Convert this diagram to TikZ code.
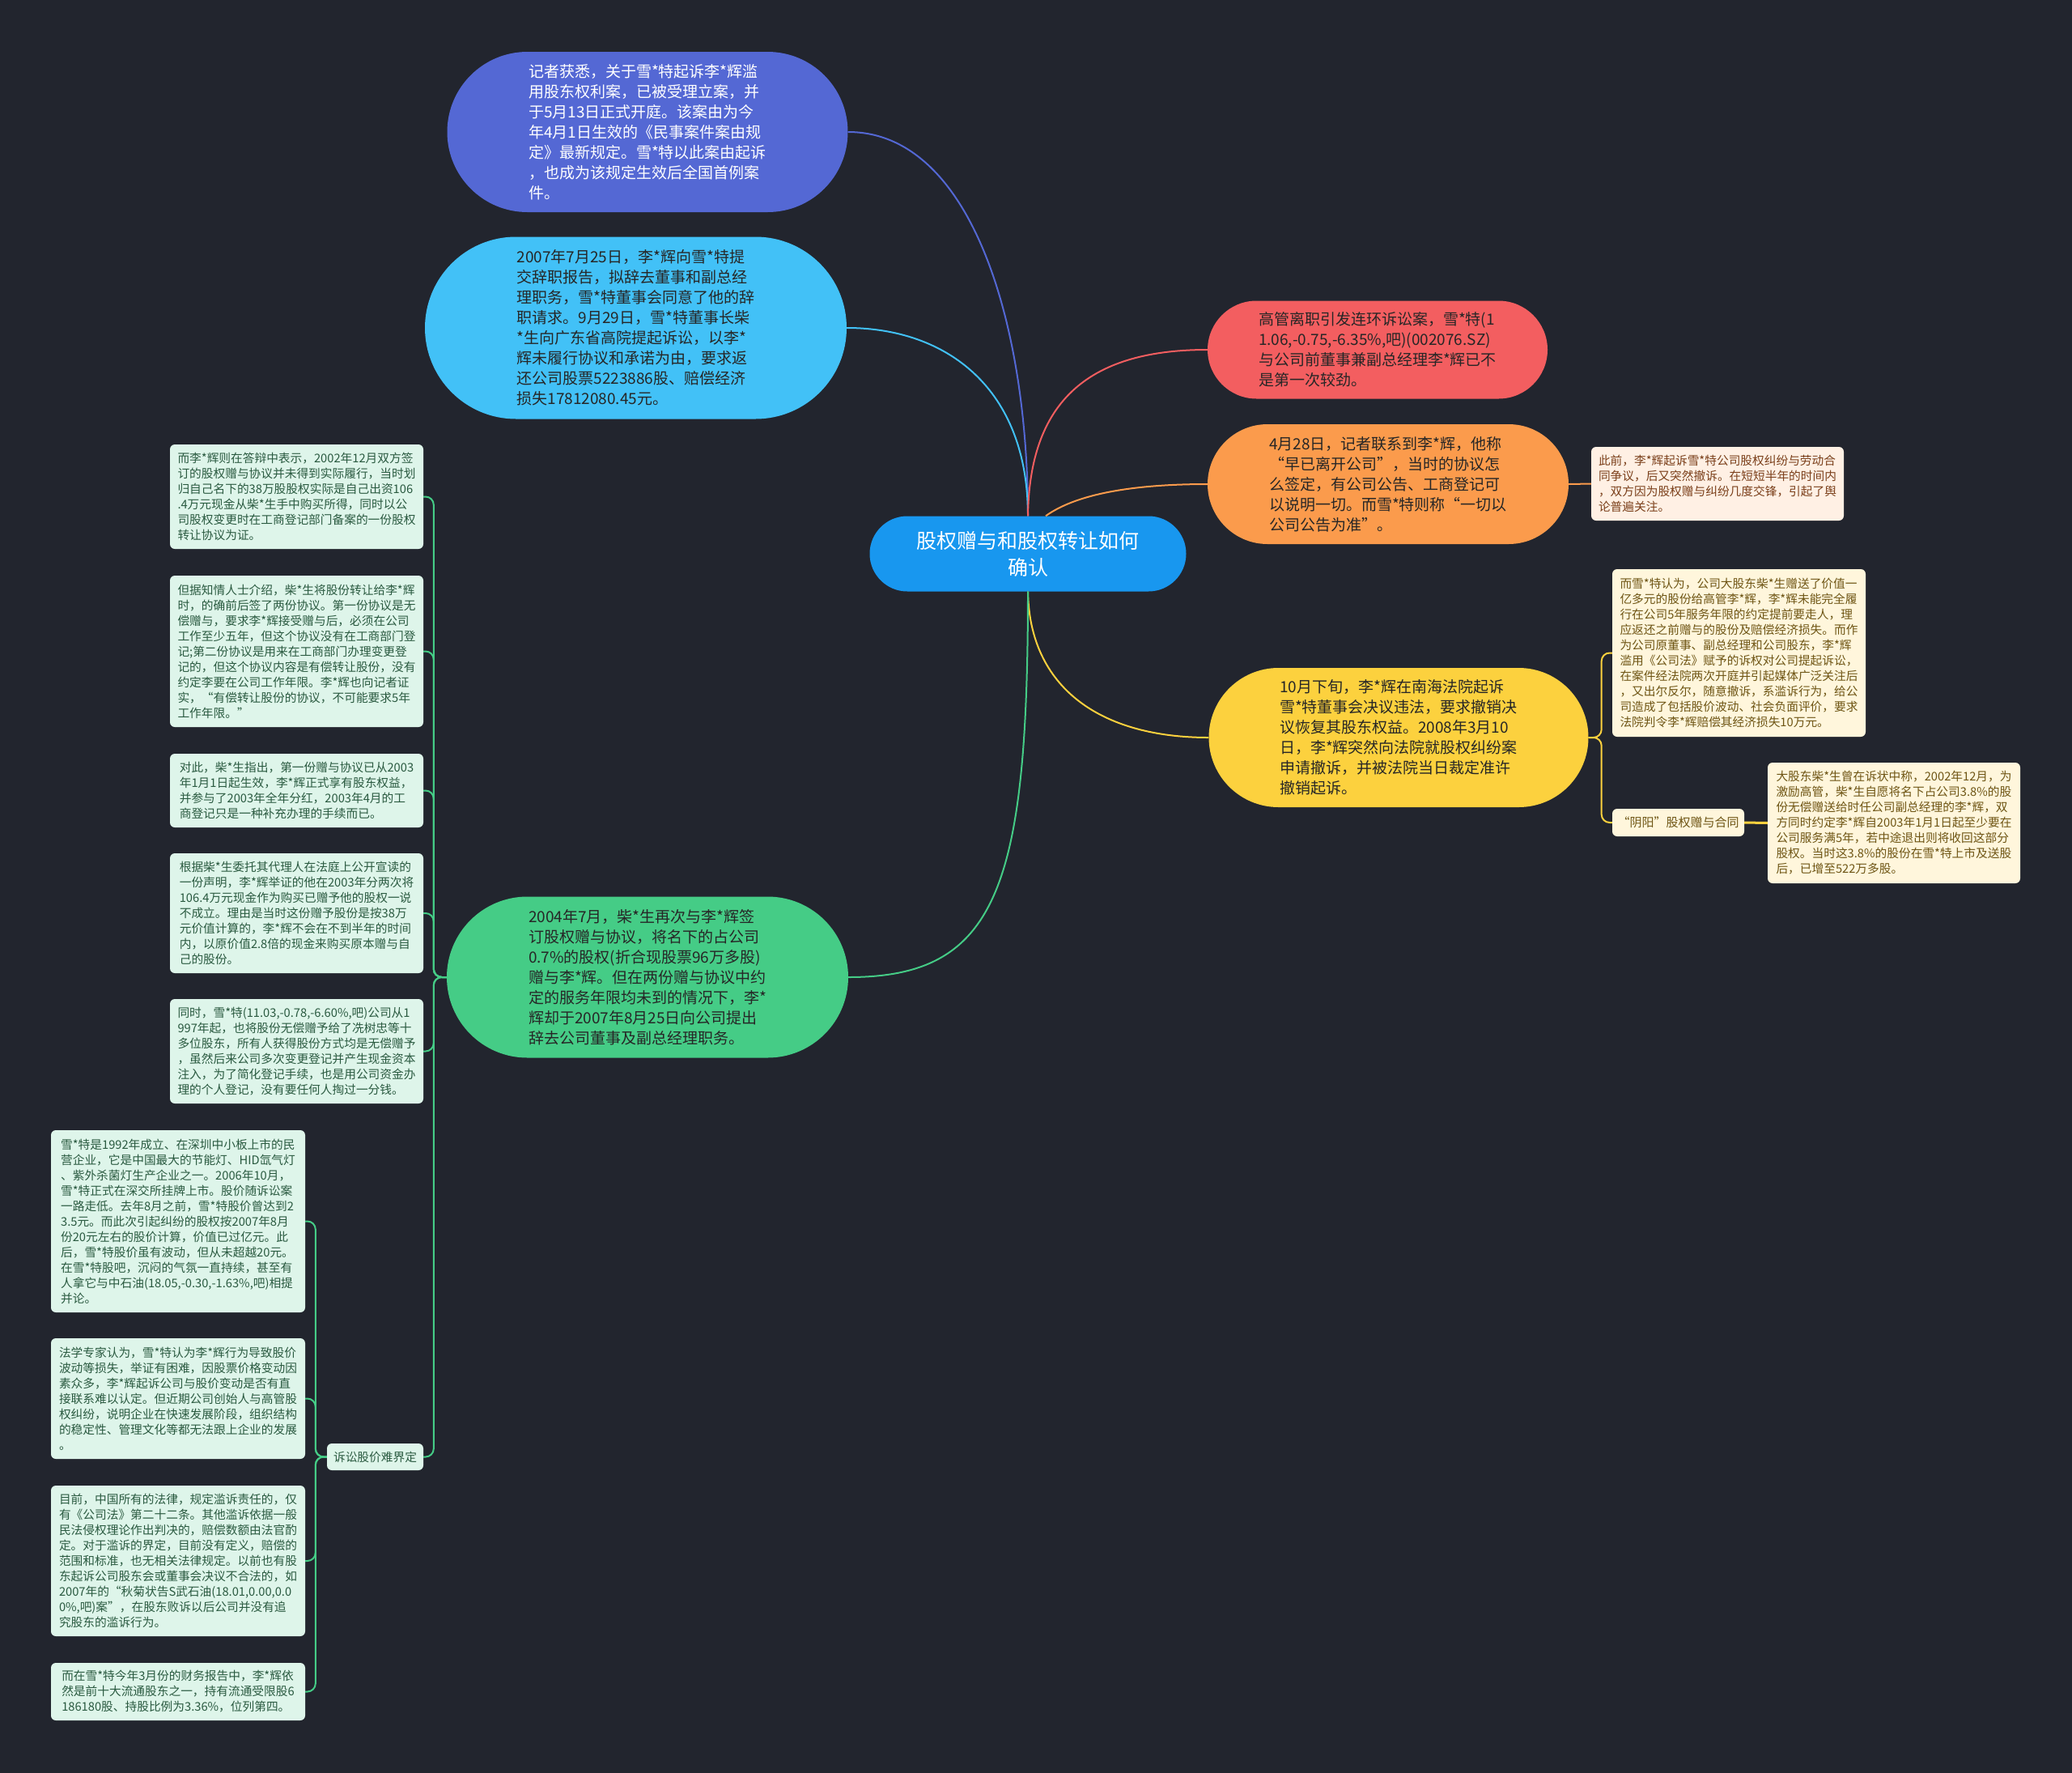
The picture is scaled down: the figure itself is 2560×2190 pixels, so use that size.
\documentclass[tikz,border=0pt]{standalone}
\usepackage{fontspec}
\setmainfont{Noto Sans CJK SC}
\usetikzlibrary{shapes.misc}

\definecolor{bgdark}{HTML}{22252E}
\definecolor{rootblue}{HTML}{1897EF}
\definecolor{bpurple}{HTML}{5468D4}
\definecolor{bblue}{HTML}{42C1F7}
\definecolor{bred}{HTML}{F35E60}
\definecolor{borange}{HTML}{FB9B4C}
\definecolor{byellow}{HTML}{FCD13E}
\definecolor{bgreen}{HTML}{45CC86}
\definecolor{notegreen}{HTML}{DEF5EA}
\definecolor{notegreentext}{HTML}{2A5A40}
\definecolor{noteyellow}{HTML}{FFF6DC}
\definecolor{noteyellowtext}{HTML}{6E5514}
\definecolor{noteorange}{HTML}{FFF0E4}
\definecolor{noteorangetext}{HTML}{7A3F1A}

\begin{document}
\begin{tikzpicture}[x=1pt, y=-1pt,
  root/.style={rounded rectangle, fill=rootblue, text=white, inner sep=0pt, minimum width=391pt, minimum height=93pt, align=center, font=\fontsize{25}{33}\selectfont},
  branch/.style={rounded rectangle, inner sep=0pt, align=left, font=\fontsize{19}{25}\selectfont},
  note/.style={rectangle, rounded corners=6pt, inner sep=0pt, align=left, font=\fontsize{14.7}{19}\selectfont},
  greennote/.style={note, fill=notegreen, text=notegreentext, minimum width=313pt},
  yellownote/.style={note, fill=noteyellow, text=noteyellowtext, minimum width=313pt},
  link/.style={line width=2pt}
]
  \fill[bgdark] (0,0) rectangle (2560,2190);

  % centre and main branches
  \node[root] (root) at (1270,684) {股权赠与和股权转让如何\\确认};

  \node[branch, fill=bpurple, text=white, minimum width=495pt, minimum height=198pt] (case) at (800,163)
    {记者获悉，关于雪*特起诉李*辉滥\\用股东权利案，已被受理立案，并\\于5月13日正式开庭。该案由为今\\年4月1日生效的《民事案件案由规\\定》最新规定。雪*特以此案由起诉\\，也成为该规定生效后全国首例案\\件。};
  \node[branch, fill=bblue, text=black!85, minimum width=521pt, minimum height=225pt] (resign) at (785.5,405)
    {2007年7月25日，李*辉向雪*特提\\交辞职报告，拟辞去董事和副总经\\理职务，雪*特董事会同意了他的辞\\职请求。9月29日，雪*特董事长柴\\*生向广东省高院提起诉讼，以李*\\辉未履行协议和承诺为由，要求返\\还公司股票5223886股、赔偿经济\\损失17812080.45元。};
  \node[branch, fill=bgreen, text=black!85, minimum width=496pt, minimum height=199pt] (regift) at (800,1207)
    {2004年7月，柴*生再次与李*辉签\\订股权赠与协议，将名下的占公司\\0.7\%的股权(折合现股票96万多股)\\赠与李*辉。但在两份赠与协议中约\\定的服务年限均未到的情况下，李*\\辉却于2007年8月25日向公司提出\\辞去公司董事及副总经理职务。};
  \node[branch, fill=bred, text=black!85, minimum width=420pt, minimum height=121pt] (feud) at (1702,432)
    {高管离职引发连环诉讼案，雪*特(1\\1.06,-0.75,-6.35\%,吧)(002076.SZ)\\与公司前董事兼副总经理李*辉已不\\是第一次较劲。};
  \node[branch, fill=borange, text=black!85, minimum width=446pt, minimum height=148pt] (contact) at (1715,598)
    {4月28日，记者联系到李*辉，他称\\“早已离开公司”，当时的协议怎\\么签定，有公司公告、工商登记可\\以说明一切。而雪*特则称“一切以\\公司公告为准”。};
  \node[branch, fill=byellow, text=black!85, minimum width=469pt, minimum height=172pt] (withdraw) at (1728,911)
    {10月下旬，李*辉在南海法院起诉\\雪*特董事会决议违法，要求撤销决\\议恢复其股东权益。2008年3月10\\日，李*辉突然向法院就股权纠纷案\\申请撤诉，并被法院当日裁定准许\\撤销起诉。};

  % right side notes
  \node[note, fill=noteorange, text=noteorangetext, minimum width=312pt, minimum height=91pt] (earlier) at (2122,597.5)
    {此前，李*辉起诉雪*特公司股权纠纷与劳动合\\同争议，后又突然撤诉。在短短半年的时间内\\，双方因为股权赠与纠纷几度交锋，引起了舆\\论普遍关注。};
  \node[yellownote, minimum height=207pt] (claim) at (2148.5,806.5)
    {而雪*特认为，公司大股东柴*生赠送了价值一\\亿多元的股份给高管李*辉，李*辉未能完全履\\行在公司5年服务年限的约定提前要走人，理\\应返还之前赠与的股份及赔偿经济损失。而作\\为公司原董事、副总经理和公司股东，李*辉\\滥用《公司法》赋予的诉权对公司提起诉讼，\\在案件经法院两次开庭并引起媒体广泛关注后\\，又出尔反尔，随意撤诉，系滥诉行为，给公\\司造成了包括股价波动、社会负面评价，要求\\法院判令李*辉赔偿其经济损失10万元。};
  \node[note, fill=noteyellow, text=noteyellowtext, minimum width=163pt, minimum height=34pt, font=\fontsize{15}{19}\selectfont] (yinyang) at (2073.5,1016)
    {“阴阳”股权赠与合同};
  \node[note, fill=noteyellow, text=noteyellowtext, minimum width=312pt, minimum height=149pt] (gift) at (2340,1016.5)
    {大股东柴*生曾在诉状中称，2002年12月，为\\激励高管，柴*生自愿将名下占公司3.8\%的股\\份无偿赠送给时任公司副总经理的李*辉，双\\方同时约定李*辉自2003年1月1日起至少要在\\公司服务满5年，若中途退出则将收回这部分\\股权。当时这3.8\%的股份在雪*特上市及送股\\后，已增至522万多股。};

  % left side notes
  \node[greennote, minimum height=129pt] (answer) at (366.5,613.5)
    {而李*辉则在答辩中表示，2002年12月双方签\\订的股权赠与协议并未得到实际履行，当时划\\归自己名下的38万股股权实际是自己出资106\\.4万元现金从柴*生手中购买所得，同时以公\\司股权变更时在工商登记部门备案的一份股权\\转让协议为证。};
  \node[greennote, minimum height=187pt] (twodeals) at (366.5,804.5)
    {但据知情人士介绍，柴*生将股份转让给李*辉\\时，的确前后签了两份协议。第一份协议是无\\偿赠与，要求李*辉接受赠与后，必须在公司\\工作至少五年，但这个协议没有在工商部门登\\记;第二份协议是用来在工商部门办理变更登\\记的，但这个协议内容是有偿转让股份，没有\\约定李要在公司工作年限。李*辉也向记者证\\实，“有偿转让股份的协议，不可能要求5年\\工作年限。”};
  \node[greennote, minimum height=91pt] (reply) at (366.5,976.5)
    {对此，柴*生指出，第一份赠与协议已从2003\\年1月1日起生效，李*辉正式享有股东权益，\\并参与了2003年全年分红，2003年4月的工\\商登记只是一种补充办理的手续而已。};
  \node[greennote, minimum height=148pt] (statement) at (366.5,1128)
    {根据柴*生委托其代理人在法庭上公开宣读的\\一份声明，李*辉举证的他在2003年分两次将\\106.4万元现金作为购买已赠予他的股权一说\\不成立。理由是当时这份赠予股份是按38万\\元价值计算的，李*辉不会在不到半年的时间\\内，以原价值2.8倍的现金来购买原本赠与自\\己的股份。};
  \node[greennote, minimum height=129pt] (others) at (366.5,1298.5)
    {同时，雪*特(11.03,-0.78,-6.60\%,吧)公司从1\\997年起，也将股份无偿赠予给了冼树忠等十\\多位股东，所有人获得股份方式均是无偿赠予\\，虽然后来公司多次变更登记并产生现金资本\\注入，为了简化登记手续，也是用公司资金办\\理的个人登记，没有要任何人掏过一分钱。};
  \node[note, fill=notegreen, text=notegreentext, minimum width=119pt, minimum height=33pt, font=\fontsize{14.7}{19}\selectfont] (pricelabel) at (463.5,1799.5)
    {诉讼股价难界定};

  \node[greennote, minimum width=314pt, minimum height=225pt] (founded) at (220,1508.5)
    {雪*特是1992年成立、在深圳中小板上市的民\\营企业，它是中国最大的节能灯、HID氙气灯\\、紫外杀菌灯生产企业之一。2006年10月，\\雪*特正式在深交所挂牌上市。股价随诉讼案\\一路走低。去年8月之前，雪*特股价曾达到2\\3.5元。而此次引起纠纷的股权按2007年8月\\份20元左右的股价计算，价值已过亿元。此\\后，雪*特股价虽有波动，但从未超越20元。\\在雪*特股吧，沉闷的气氛一直持续，甚至有\\人拿它与中石油(18.05,-0.30,-1.63\%,吧)相提\\并论。};
  \node[greennote, minimum width=314pt, minimum height=149pt] (expert) at (220,1727.5)
    {法学专家认为，雪*特认为李*辉行为导致股价\\波动等损失，举证有困难，因股票价格变动因\\素众多，李*辉起诉公司与股价变动是否有直\\接联系难以认定。但近期公司创始人与高管股\\权纠纷，说明企业在快速发展阶段，组织结构\\的稳定性、管理文化等都无法跟上企业的发展\\。};
  \node[greennote, minimum width=314pt, minimum height=186pt] (lawgap) at (220,1928)
    {目前，中国所有的法律，规定滥诉责任的，仅\\有《公司法》第二十二条。其他滥诉依据一般\\民法侵权理论作出判决的，赔偿数额由法官酌\\定。对于滥诉的界定，目前没有定义，赔偿的\\范围和标准，也无相关法律规定。以前也有股\\东起诉公司股东会或董事会决议不合法的，如\\2007年的“秋菊状告S武石油(18.01,0.00,0.0\\0\%,吧)案”，在股东败诉以后公司并没有追\\究股东的滥诉行为。};
  \node[greennote, minimum width=314pt, minimum height=71pt] (holder) at (220,2089.5)
    {而在雪*特今年3月份的财务报告中，李*辉依\\然是前十大流通股东之一，持有流通受限股6\\186180股、持股比例为3.36\%，位列第四。};

  % links from the centre
  \draw[link, draw=bpurple] (root.north) .. controls (1270,400) and (1200,163) .. (case.east);
  \draw[link, draw=bblue] (root.north) .. controls (1270,480) and (1170,405) .. (resign.east);
  \draw[link, draw=bred] (root.north) .. controls (1272,500) and (1340,432) .. (feud.west);
  \draw[link, draw=borange] ([xshift=22pt]root.north) .. controls (1330,610) and (1400,598) .. (contact.west);
  \draw[link, draw=byellow] (root.south) .. controls (1272,850) and (1360,911) .. (withdraw.west);
  \draw[link, draw=bgreen] (root.south) .. controls (1270,1100) and (1230,1207) .. (regift.east);

  % sub links
  \draw[link, draw=borange] (contact.east) -- (earlier.west);
  \foreach \n in {claim,yinyang}
    \draw[link, draw=byellow, rounded corners=10pt] (withdraw.east) -- ++(16,0) |- (\n.west);
  \draw[line width=3pt, draw=byellow] (yinyang.east) -- (gift.west);
  \foreach \n in {answer,twodeals,reply,statement,others,pricelabel}
    \draw[link, draw=bgreen, rounded corners=10pt] (regift.west) -- ++(-16,0) |- (\n.east);
  \foreach \n in {founded,expert,lawgap,holder}
    \draw[link, draw=bgreen, rounded corners=10pt] (pricelabel.west) -- ++(-14,0) |- (\n.east);
\end{tikzpicture}
\end{document}
